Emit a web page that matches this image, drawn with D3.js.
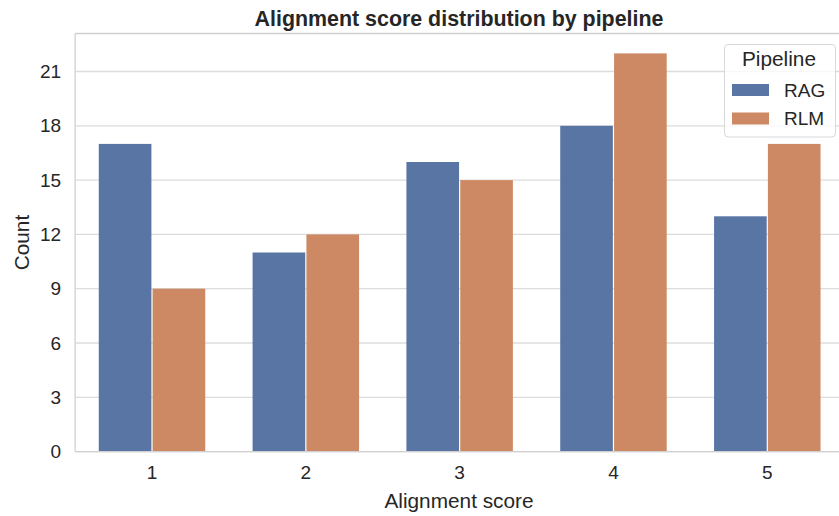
<!DOCTYPE html>
<html>
<head>
<meta charset="utf-8">
<script src="https://cdn.jsdelivr.net/npm/d3@7"></script>
<style>
  html, body { margin: 0; padding: 0; background: #fff; }
  svg { display: block; font-family: "Liberation Sans", Arial, sans-serif; }
</style>
</head>
<body>
<svg id="chart" width="839" height="516"></svg>
<script>
const categories = ["1", "2", "3", "4", "5"];
const pipelines = ["RAG", "RLM"];
const ragCounts = [17, 11, 16, 18, 13];
const rlmCounts = [9, 12, 15, 22, 17];
const yTicks = [0, 3, 6, 9, 12, 15, 18, 21];
const colors = ["#5875a4", "#cc8963"];

const svg = d3.select("#chart");
const margin = { left: 75.1, right: 844.2, top: 33.5, bottom: 451.6 };
const seriesValues = [ragCounts, rlmCounts];
const textColor = "#262626";
const tickFont = "19px";
const labelFont = "20.8px";

const x = d3.scaleBand().domain(categories).range([margin.left, margin.right]).paddingInner(0).paddingOuter(0);
const x1 = d3.scaleBand().domain(pipelines).range([x.bandwidth() * 0.15, x.bandwidth() * 0.85]);
const yMax = d3.max([...ragCounts, ...rlmCounts]) * 1.05;
const y = d3.scaleLinear().domain([0, yMax]).range([margin.bottom, margin.top]);

// grid
const gridG = svg.append("g");
gridG.selectAll("line").data(yTicks).join("line")
  .attr("x1", margin.left).attr("x2", margin.right)
  .attr("y1", d => y(d)).attr("y2", d => y(d))
  .attr("stroke", "#dcdcdc").attr("stroke-width", 1.3);

// bars
const data = [];
categories.forEach((c, i) => pipelines.forEach((p, j) => data.push({ c, p, v: seriesValues[j][i], j })));
svg.append("g").selectAll("rect").data(data).join("rect")
  .attr("x", d => x(d.c) + x1(d.p) + 0.6)
  .attr("width", x1.bandwidth() - 1.2)
  .attr("y", d => y(d.v))
  .attr("height", d => y(0) - y(d.v))
  .attr("fill", d => colors[d.j]);

// spines
svg.append("line").attr("x1", margin.left).attr("x2", margin.left).attr("y1", margin.top).attr("y2", margin.bottom)
  .attr("stroke", "#d0d0d0").attr("stroke-width", 1.3);
svg.append("line").attr("x1", margin.left).attr("x2", margin.right).attr("y1", margin.bottom).attr("y2", margin.bottom)
  .attr("stroke", "#d0d0d0").attr("stroke-width", 1.3);
svg.append("line").attr("x1", margin.left).attr("x2", margin.right).attr("y1", margin.top).attr("y2", margin.top)
  .attr("stroke", "#d0d0d0").attr("stroke-width", 1.3);

// y axis
const yAxis = d3.axisLeft(y).tickValues(yTicks).tickSize(0).tickPadding(14);
const yg = svg.append("g").attr("transform", `translate(${margin.left},0)`).call(yAxis);
yg.select(".domain").remove();
yg.selectAll("text").attr("font-size", tickFont).attr("fill", textColor)
  .attr("font-family", "Liberation Sans, Arial, sans-serif");

// x axis
const xAxis = d3.axisBottom(x).tickSize(0).tickPadding(14);
const xg = svg.append("g").attr("transform", `translate(0,${margin.bottom})`).call(xAxis);
xg.select(".domain").remove();
xg.selectAll("text").attr("font-size", tickFont).attr("fill", textColor)
  .attr("font-family", "Liberation Sans, Arial, sans-serif");

// labels
svg.append("text").attr("x", 459).attr("y", 26).attr("text-anchor", "middle")
  .attr("font-size", "21.4px").attr("font-weight", "bold").attr("fill", textColor)
  .text("Alignment score distribution by pipeline");
svg.append("text").attr("x", 459).attr("y", 508).attr("text-anchor", "middle")
  .attr("font-size", labelFont).attr("fill", textColor).text("Alignment score");
svg.append("text").attr("transform", `translate(29,${(margin.top + margin.bottom) / 2}) rotate(-90)`)
  .attr("text-anchor", "middle").attr("font-size", labelFont).attr("fill", textColor).text("Count");

// legend
const lg = svg.append("g");
lg.append("rect").attr("x", 724.5).attr("y", 44.5).attr("width", 111).attr("height", 92.5)
  .attr("rx", 3.5).attr("fill", "#fff").attr("fill-opacity", 0.8).attr("stroke", "#d8d8d8").attr("stroke-width", 1);
lg.append("text").attr("x", 779).attr("y", 66).attr("text-anchor", "middle")
  .attr("font-size", labelFont).attr("fill", textColor).text("Pipeline");
pipelines.forEach((p, j) => {
  const cy = 90 + j * 28.5;
  lg.append("rect").attr("x", 732).attr("y", cy - 6).attr("width", 37).attr("height", 12).attr("fill", colors[j]);
  lg.append("text").attr("x", 784).attr("y", cy + 6.7).attr("font-size", tickFont).attr("fill", textColor).text(p);
});
</script>
</body>
</html>
